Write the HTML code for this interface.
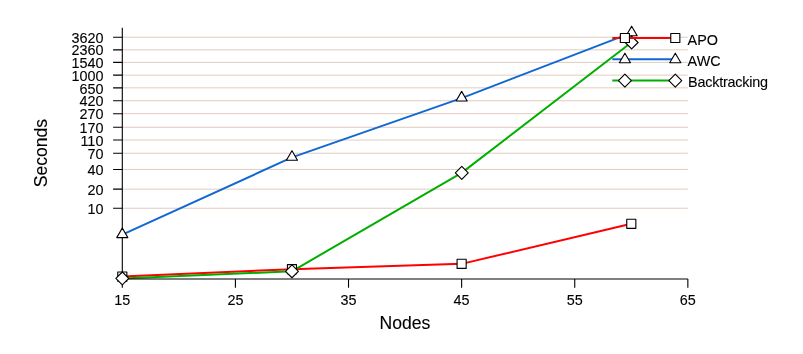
<!DOCTYPE html>
<html>
<head>
<meta charset="utf-8">
<style>
html,body{margin:0;padding:0;background:#fff;}
body{width:803px;height:354px;overflow:hidden;font-family:"Liberation Sans",sans-serif;}
svg{display:block;position:absolute;left:0;top:0;will-change:transform;}
text{font-family:"Liberation Sans",sans-serif;fill:#000;stroke:#000;stroke-width:0.1px;}
.grid line{stroke:#cfa893;stroke-width:0.6;}
.ax{stroke:#000;stroke-width:1.1;fill:none;}
.tl{font-size:14.4px;}
.at{font-size:17.6px;}
.mk{fill:#fff;stroke:#000;stroke-width:1.12;stroke-linejoin:round;}
.s{fill:none;stroke-width:2;stroke-linejoin:round;}
</style>
</head>
<body>
<svg width="803" height="354" viewBox="0 0 803 354">
<rect width="803" height="354" fill="#fff"/>
<g class="grid">
<line x1="122.3" x2="687.8" y1="37.21" y2="37.21"/>
<line x1="122.3" x2="687.8" y1="49.83" y2="49.83"/>
<line x1="122.3" x2="687.8" y1="62.42" y2="62.42"/>
<line x1="122.3" x2="687.8" y1="75.15" y2="75.15"/>
<line x1="122.3" x2="687.8" y1="87.85" y2="87.85"/>
<line x1="122.3" x2="687.8" y1="100.71" y2="100.71"/>
<line x1="122.3" x2="687.8" y1="113.70" y2="113.70"/>
<line x1="122.3" x2="687.8" y1="127.29" y2="127.29"/>
<line x1="122.3" x2="687.8" y1="140.04" y2="140.04"/>
<line x1="122.3" x2="687.8" y1="153.23" y2="153.23"/>
<line x1="122.3" x2="687.8" y1="169.43" y2="169.43"/>
<line x1="122.3" x2="687.8" y1="189.17" y2="189.17"/>
<line x1="122.3" x2="687.8" y1="208.25" y2="208.25"/>
</g>
<polyline class="s" stroke="#ff0000" points="122.30,276.60 291.96,269.20 461.63,263.85 631.29,223.80"/>
<polyline class="s" stroke="#1268d2" points="122.30,234.70 291.96,157.40 461.63,98.10 631.29,32.90"/>
<polyline class="s" stroke="#00ae00" points="122.30,278.45 291.96,271.30 461.63,172.85 631.29,42.50"/>
<path class="ax" d="M122.30,27.7V279.00H687.85"/>
<path class="ax" d="M122.30,37.21H113.1M122.30,49.83H113.1M122.30,62.42H113.1M122.30,75.15H113.1M122.30,87.85H113.1M122.30,100.71H113.1M122.30,113.70H113.1M122.30,127.29H113.1M122.30,140.04H113.1M122.30,153.23H113.1M122.30,169.43H113.1M122.30,189.17H113.1M122.30,208.25H113.1M122.30,279.00V287.8M235.41,279.00V287.8M348.52,279.00V287.8M461.63,279.00V287.8M574.74,279.00V287.8M687.85,279.00V287.8"/>
<rect class="mk" x="117.75" y="272.05" width="9.10" height="9.10"/>
<rect class="mk" x="287.41" y="264.65" width="9.10" height="9.10"/>
<rect class="mk" x="457.08" y="259.30" width="9.10" height="9.10"/>
<rect class="mk" x="626.75" y="219.25" width="9.10" height="9.10"/>
<path class="mk" d="M122.30,228.00L127.85,237.60L116.75,237.60Z"/>
<path class="mk" d="M291.96,150.70L297.51,160.30L286.41,160.30Z"/>
<path class="mk" d="M461.63,91.40L467.18,101.00L456.08,101.00Z"/>
<path class="mk" d="M631.64,26.20L637.19,35.80L626.10,35.80Z"/>
<path class="mk" d="M122.30,272.00L128.75,278.45L122.30,284.90L115.85,278.45Z"/>
<path class="mk" d="M291.96,264.85L298.41,271.30L291.96,277.75L285.51,271.30Z"/>
<path class="mk" d="M461.78,166.40L468.23,172.85L461.78,179.30L455.33,172.85Z"/>
<path class="mk" d="M631.64,36.05L638.10,42.50L631.64,48.95L625.19,42.50Z"/>
<text class="tl" text-anchor="end" x="103.4" y="42.86">3620</text>
<text class="tl" text-anchor="end" x="103.4" y="55.48">2360</text>
<text class="tl" text-anchor="end" x="103.4" y="68.07">1540</text>
<text class="tl" text-anchor="end" x="103.4" y="80.80">1000</text>
<text class="tl" text-anchor="end" x="103.4" y="93.50">650</text>
<text class="tl" text-anchor="end" x="103.4" y="106.36">420</text>
<text class="tl" text-anchor="end" x="103.4" y="119.35">270</text>
<text class="tl" text-anchor="end" x="103.4" y="132.94">170</text>
<text class="tl" text-anchor="end" x="103.4" y="145.69">110</text>
<text class="tl" text-anchor="end" x="103.4" y="158.88">70</text>
<text class="tl" text-anchor="end" x="103.4" y="175.08">40</text>
<text class="tl" text-anchor="end" x="103.4" y="194.82">20</text>
<text class="tl" text-anchor="end" x="103.4" y="213.90">10</text>
<text class="tl" text-anchor="middle" x="122.30" y="305">15</text>
<text class="tl" text-anchor="middle" x="235.41" y="305">25</text>
<text class="tl" text-anchor="middle" x="348.52" y="305">35</text>
<text class="tl" text-anchor="middle" x="461.63" y="305">45</text>
<text class="tl" text-anchor="middle" x="574.74" y="305">55</text>
<text class="tl" text-anchor="middle" x="687.85" y="305">65</text>
<text class="at" text-anchor="middle" x="405" y="328.9">Nodes</text>
<text class="at" text-anchor="middle" transform="translate(47.1,153.1) rotate(-90)">Seconds</text>
<line x1="612.3" x2="675.3" y1="38.00" y2="38.00" stroke="#ff0000" stroke-width="2"/>
<rect class="mk" x="620.35" y="33.45" width="9.10" height="9.10"/>
<rect class="mk" x="670.75" y="33.45" width="9.10" height="9.10"/>
<text class="tl" x="687.6" y="45">APO</text>
<line x1="612.3" x2="675.3" y1="59.30" y2="59.30" stroke="#1268d2" stroke-width="2"/>
<path class="mk" d="M624.90,53.20L630.45,62.80L619.35,62.80Z"/>
<path class="mk" d="M675.30,53.20L680.85,62.80L669.75,62.80Z"/>
<text class="tl" x="687.6" y="66">AWC</text>
<line x1="612.3" x2="675.3" y1="80.60" y2="80.60" stroke="#00ae00" stroke-width="2"/>
<path class="mk" d="M624.90,74.15L631.35,80.60L624.90,87.05L618.45,80.60Z"/>
<path class="mk" d="M675.30,74.15L681.75,80.60L675.30,87.05L668.85,80.60Z"/>
<text class="tl" x="688.05" style="letter-spacing:-0.21px" y="87">Backtracking</text>
</svg>
</body>
</html>
